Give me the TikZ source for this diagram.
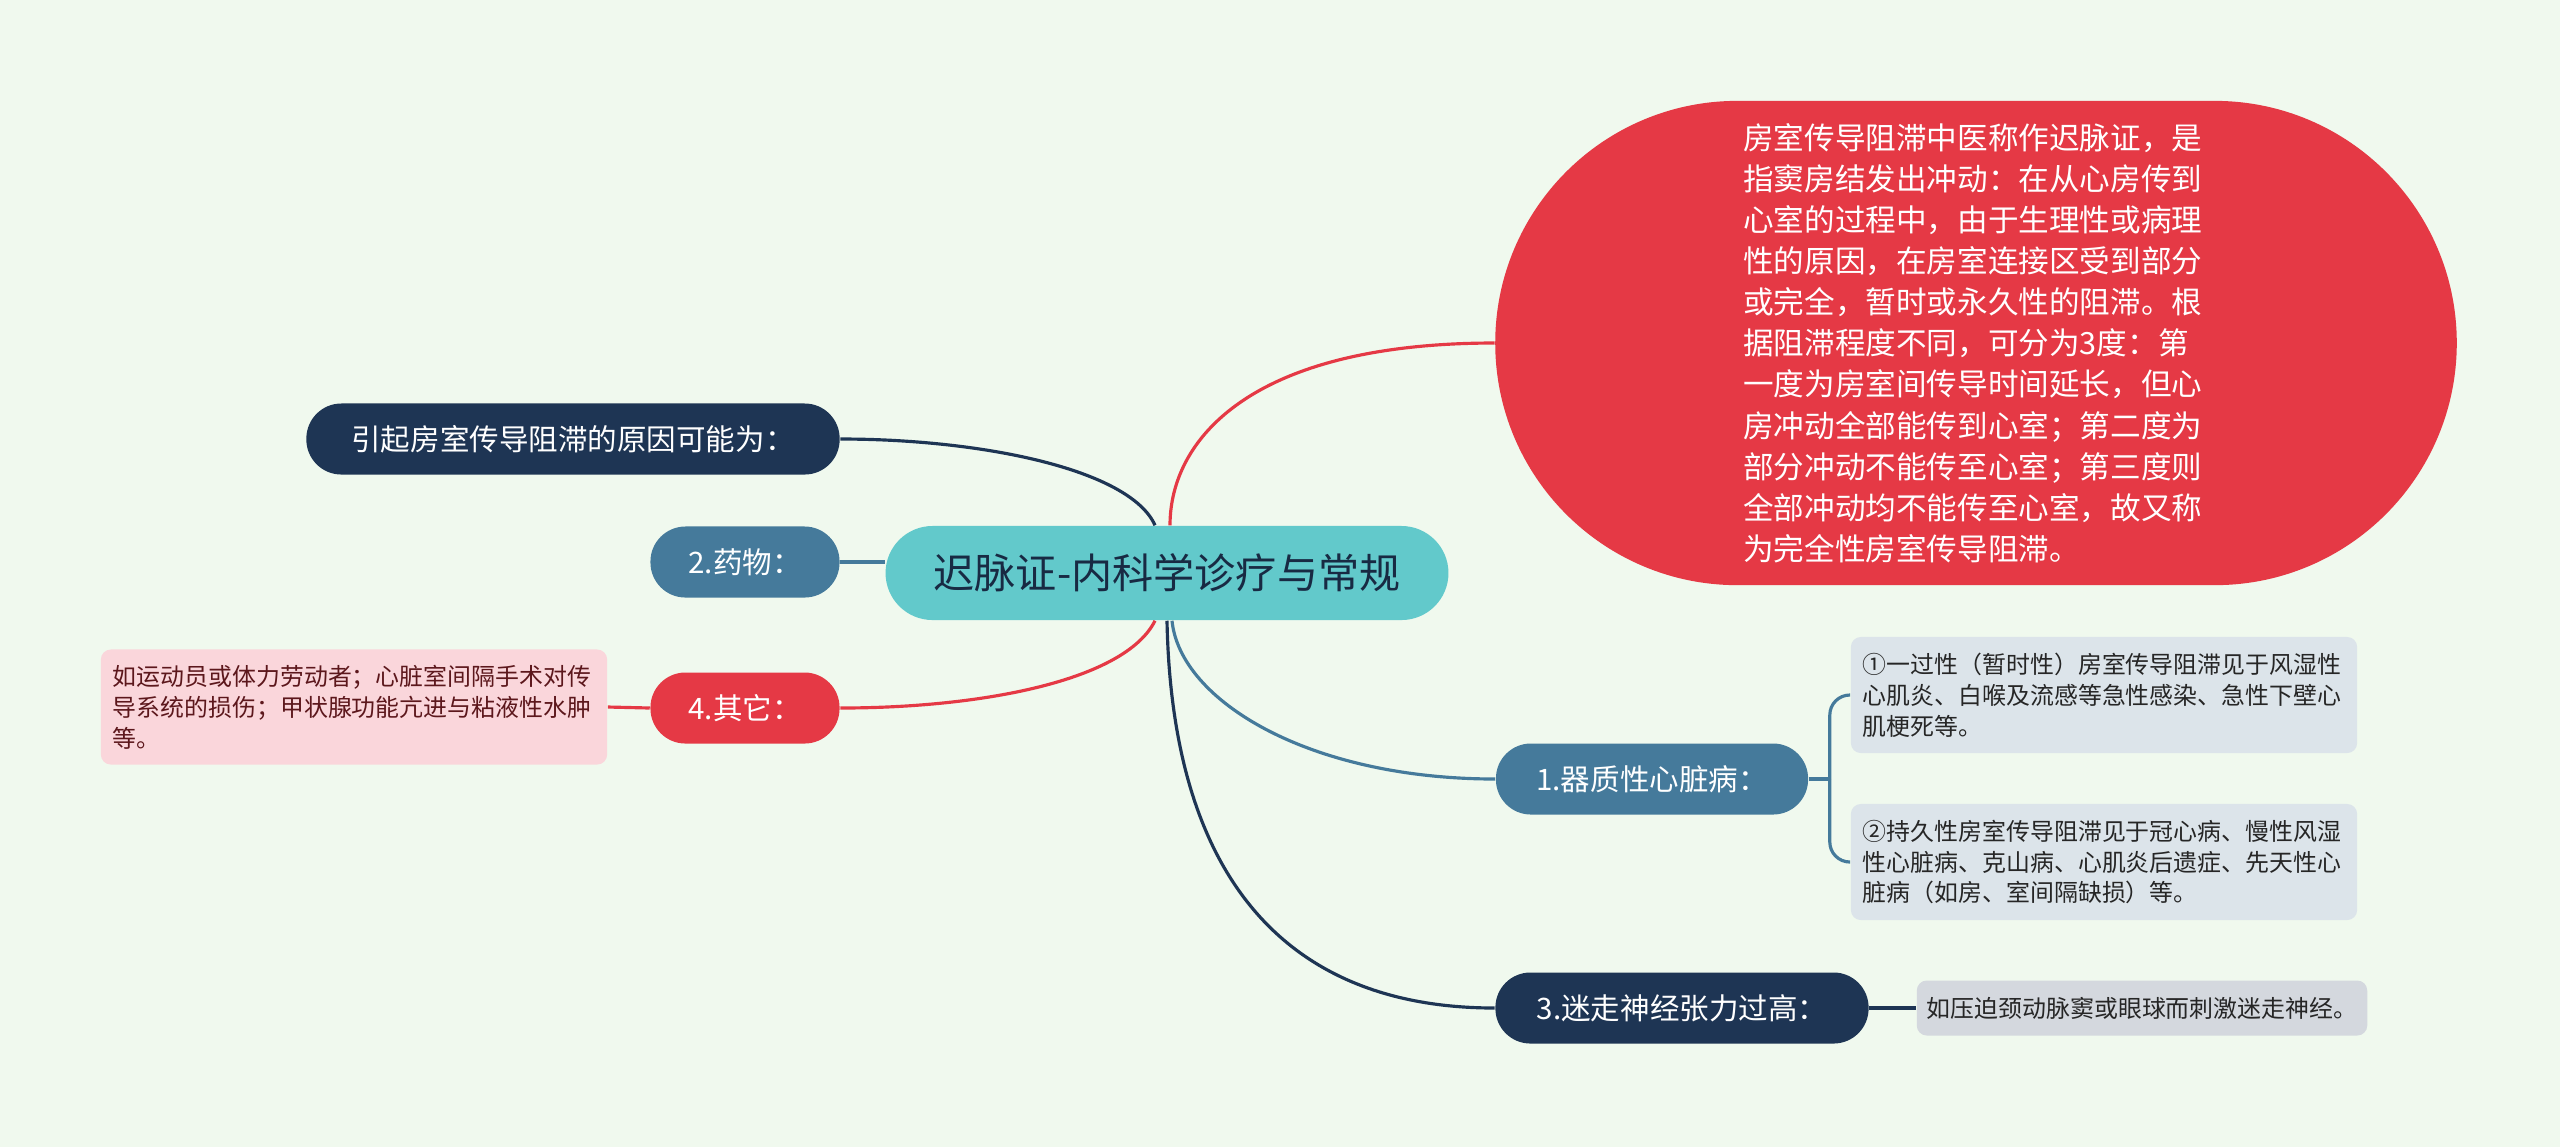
\documentclass[tikz,border=0pt]{standalone}
\usepackage{fontspec}
\setmainfont{Noto Sans CJK SC}
\usepackage{xcolor}
\usepackage{tikz}
\usetikzlibrary{calc}

\definecolor{bgmint}{HTML}{F0F9EE}
\definecolor{rootteal}{HTML}{62C9CB}
\definecolor{navyblue}{HTML}{1E3554}
\definecolor{steelblue}{HTML}{457A9B}
\definecolor{heartred}{HTML}{E53945}
\definecolor{pinkleaf}{HTML}{FAD6DB}
\definecolor{greyleaf}{HTML}{DCE4EA}
\definecolor{greyleafb}{HTML}{D4D8DE}

\begin{document}
\begin{tikzpicture}[x=0.01cm,y=-0.01cm,
  pill/.style={rounded corners=0.35cm, minimum height=0.71cm, inner xsep=0.3cm,
    text=white, font=\fontsize{8.4}{10}\selectfont},
  leaf/.style={rounded corners=0.1cm, align=left, inner xsep=0.12cm,
    font=\fontsize{6.8}{8.8}\selectfont},
  link/.style={line width=0.9pt}]
  \fill[bgmint] (0,0) rectangle (2560,1147);

  % centre
  \node[fill=rootteal, text=navyblue!80!black, rounded corners=0.47cm,
    minimum height=0.94cm, inner xsep=0.48cm,
    font=\fontsize{11.7}{14}\selectfont] (root) at (1167,573) {迟脉证-内科学诊疗与常规};

  % right side
  \node[fill=heartred, text=white, rounded corners=2.42cm, minimum width=9.61cm,
    minimum height=4.84cm, text width=4.65cm, align=left,
    font=\fontsize{8.7}{11.7}\selectfont] (def) at (1976,343)
    {房室传导阻滞中医称作迟脉证，是\\指窦房结发出冲动：在从心房传到\\心室的过程中，由于生理性或病理\\性的原因，在房室连接区受到部分\\或完全，暂时或永久性的阻滞。根\\据阻滞程度不同，可分为3度：第\\一度为房室间传导时间延长，但心\\房冲动全部能传到心室；第二度为\\部分冲动不能传至心室；第三度则\\全部冲动均不能传至心室，故又称\\为完全性房室传导阻滞。};
  \node[pill, fill=steelblue, minimum width=3.12cm] (zhi) at (1652,779) {1.器质性心脏病：};
  \node[pill, fill=navyblue, minimum width=3.73cm] (mizou) at (1682,1008) {3.迷走神经张力过高：};
  \node[leaf, fill=greyleaf, text=black!85, text width=4.82cm, minimum height=1.16cm] (b1) at (2104,695)
    {①一过性（暂时性）房室传导阻滞见于风湿性\\心肌炎、白喉及流感等急性感染、急性下壁心\\肌梗死等。};
  \node[leaf, fill=greyleaf, text=black!85, text width=4.82cm, minimum height=1.16cm] (b2) at (2104,862)
    {②持久性房室传导阻滞见于冠心病、慢性风湿\\性心脏病、克山病、心肌炎后遗症、先天性心\\脏病（如房、室间隔缺损）等。};
  \node[leaf, fill=greyleafb, text=black!85, minimum height=0.55cm, inner xsep=0.1cm] (b3) at (2142,1008)
    {如压迫颈动脉窦或眼球而刺激迷走神经。};

  % left side
  \node[pill, fill=navyblue, minimum width=5.33cm] (yinqi) at (573,439) {引起房室传导阻滞的原因可能为：};
  \node[pill, fill=steelblue, minimum width=1.89cm] (yao) at (745,562) {2.药物：};
  \node[pill, fill=heartred, minimum width=1.89cm] (qita) at (745,708) {4.其它：};
  \node[leaf, fill=pinkleaf, text=heartred!40!black, text width=4.82cm, minimum height=1.15cm] (pink) at (354,707)
    {如运动员或体力劳动者；心脏室间隔手术对传\\导系统的损伤；甲状腺功能亢进与粘液性水肿\\等。};

  % branches
  \draw[link, heartred] ([xshift=0.03cm]root.north) .. controls +(0,-85) and +(-245,0) .. (def.west);
  \draw[link, navyblue] ([xshift=-0.12cm]root.north) .. controls +(-25,-56) and +(141,0) .. (yinqi.east);
  \draw[link, steelblue] (yao.east) -- (yao.east -| root.west);
  \draw[link, heartred] ([xshift=-0.12cm]root.south) .. controls +(-30,60) and +(141,0) .. (qita.east);
  \draw[link, steelblue] ([xshift=0.05cm]root.south) .. controls +(8,80) and +(-186,0) .. (zhi.west);
  \draw[link, navyblue] (root.south) .. controls +(5,260) and +(-206,0) .. (mizou.west);

  % leaves
  \draw[link, steelblue] (zhi.east) -- ++(21,0) coordinate (fork);
  \draw[link, steelblue, rounded corners=0.2cm] (fork) |- (b1.west);
  \draw[link, steelblue, rounded corners=0.2cm] (fork) |- (b2.west);
  \draw[link, navyblue] (mizou.east) -- (b3.west);
  \draw[link, heartred] (qita.west) -- (pink.east);
\end{tikzpicture}
\end{document}
